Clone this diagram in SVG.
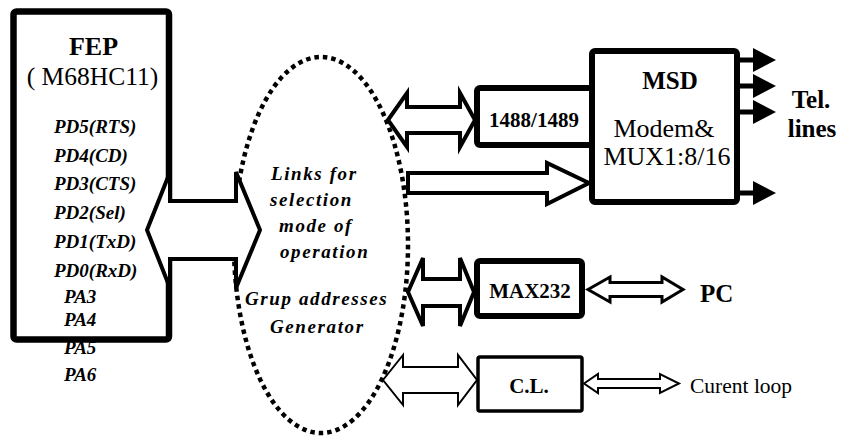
<svg xmlns="http://www.w3.org/2000/svg" xmlns:xlink="http://www.w3.org/1999/xlink" width="841" height="439" viewBox="0 0 841 439">
<style>
  .box { fill: #fff; stroke: #000; }
  text { font-family: "Liberation Serif", "Times New Roman", serif; fill: #000; }
  .b { font-weight: bold; }
  .bi { font-weight: bold; font-style: italic; }
  .pin { font-size: 19px; }
  .ell { font-size: 19px; letter-spacing: 1.6px; }
  .arr { fill: #fff; stroke: #000; stroke-linejoin: miter; }
</style>
<defs>
  <g id="tel-arrow">
    <rect x="740" y="-2.5" width="15" height="5" fill="#000"/>
    <polygon points="753,-12 776,0 753,12" fill="#000"/>
  </g>
</defs>
<rect width="841" height="439" fill="#fff"/>

<g id="fep">
  <rect class="box" x="13.5" y="11.5" width="155.5" height="328" rx="3" stroke-width="6.5"/>
  <text class="b" x="93.5" y="55" font-size="26" text-anchor="middle">FEP</text>
  <text x="92.5" y="85" font-size="25.5" text-anchor="middle">( M68HC11)</text>
  <text class="bi pin" x="54" y="133">PD5(RTS)</text>
  <text class="bi pin" x="54" y="162">PD4(CD)</text>
  <text class="bi pin" x="54" y="190">PD3(CTS)</text>
  <text class="bi pin" x="54" y="219">PD2(Sel)</text>
  <text class="bi pin" x="54" y="248">PD1(TxD)</text>
  <text class="bi pin" x="54" y="277">PD0(RxD)</text>
  <text class="bi pin" x="64" y="303">PA3</text>
  <text class="bi pin" x="64" y="326">PA4</text>
  <text class="bi pin" x="64" y="354">PA5</text>
  <text class="bi pin" x="64" y="381">PA6</text>
</g>

<g id="links">
  <ellipse cx="321" cy="245" rx="87" ry="188" fill="none" stroke="#000" stroke-width="4.5" stroke-dasharray="4.5 4"/>
  <text class="bi ell" x="271" y="180">Links for</text>
  <text class="bi ell" x="270" y="206">selection</text>
  <text class="bi ell" x="279" y="232">mode of</text>
  <text class="bi ell" x="280" y="258">operation</text>
  <text class="bi ell" x="245" y="305">Grup addresses</text>
  <text class="bi ell" x="270" y="333">Generator</text>
</g>

<g id="connectors">
  <polygon class="arr" stroke-width="4" points="147,230 170,172 170,201 236,201 236,172 260,230 236,288 236,259 170,259 170,288"/>
  <polygon class="arr" stroke-width="4" points="388,120 407,93 407,107 460,107 460,93 475,120 460,147 460,133 407,133 407,147"/>
  <polygon class="arr" stroke-width="4" points="408,173 547,173 547,163 589,183 547,204 547,193 408,193"/>
  <polygon class="arr" stroke-width="4" points="408,292 423,258 423,279 460,279 460,258 474,292 460,326 460,306 423,306 423,326"/>
  <polygon class="arr" stroke-width="3" points="588,289.5 610,277 610,282.5 662,282.5 662,277 683,289.5 662,302 662,296.5 610,296.5 610,302"/>
  <polygon class="arr" stroke-width="2" points="383,380 403,355 403,367 458,367 458,355 477,380 458,405 458,393 403,393 403,405"/>
  <polygon class="arr" stroke-width="2" points="584,383.5 598,374 598,379 660,379 660,374 679,383.5 660,393 660,388 598,388 598,393"/>
  <use xlink:href="#tel-arrow" transform="translate(0,60)"/>
  <use xlink:href="#tel-arrow" transform="translate(0,86)"/>
  <use xlink:href="#tel-arrow" transform="translate(0,112)"/>
  <use xlink:href="#tel-arrow" transform="translate(0,193)"/>
</g>

<g id="msd">
  <rect class="box" x="592" y="51" width="145" height="151" rx="3" stroke-width="6"/>
  <text class="b" x="670" y="89" font-size="25" text-anchor="middle">MSD</text>
  <text x="664" y="137" font-size="26" text-anchor="middle">Modem&amp;</text>
  <text x="667" y="165" font-size="26" text-anchor="middle">MUX1:8/16</text>
</g>

<g id="drv1488">
  <rect class="box" x="477" y="88" width="115" height="57" rx="3" stroke-width="6"/>
  <text class="b" x="534" y="127" font-size="21" text-anchor="middle">1488/1489</text>
</g>

<g id="max232">
  <rect class="box" x="477" y="261" width="105" height="55" rx="3" stroke-width="6"/>
  <text class="b" x="530" y="298" font-size="21" text-anchor="middle">MAX232</text>
</g>

<g id="cl">
  <rect class="box" x="478" y="357" width="104" height="54" rx="2" stroke-width="3.5"/>
  <text class="b" x="529" y="393" font-size="21" text-anchor="middle">C.L.</text>
</g>

<g id="tel">
  <text class="b" x="811" y="108" font-size="25" text-anchor="middle">Tel.</text>
  <text class="b" x="812" y="137" font-size="25" text-anchor="middle">lines</text>
</g>

<g id="pc">
  <text class="b" x="700" y="302" font-size="25">PC</text>
</g>

<g id="loop">
  <text x="690" y="393" font-size="21.5">Curent loop</text>
</g>
</svg>
